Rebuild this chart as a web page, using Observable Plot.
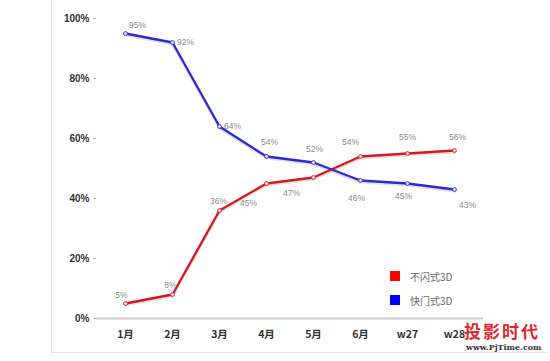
<!DOCTYPE html>
<html>
<head>
<meta charset="utf-8">
<script src="https://cdn.jsdelivr.net/npm/d3@7"></script>
<script src="https://cdn.jsdelivr.net/npm/@observablehq/plot@0.6"></script>
<style>
  html, body { margin: 0; padding: 0; background: #fff; }
  #wrap { position: relative; width: 550px; height: 361px; overflow: hidden; font-family: "Noto Sans CJK SC", "Liberation Sans", sans-serif; }
  #frame { position: absolute; left: 51px; top: -2px; width: 495px; height: 354px; border-left: 1px solid #e4e4e4; border-bottom: 1px solid #e4e4e4; }
  #chart { position: absolute; left: 0; top: 0; }
  #legend { position: absolute; left: 390px; top: 264px; font-size: 10px; color: #666; }
  #legend div { display: flex; align-items: center; height: 24px; }
  #legend span.sw { display: inline-block; width: 10px; height: 10px; margin-right: 10px; }
  #wm { position: absolute; left: 464px; top: 320px; text-align: left; white-space: nowrap; }
  #wm .cn { color: #e0282c; font-weight: bold; font-size: 17px; letter-spacing: 2px; line-height: 22px; font-family: "Noto Sans CJK SC", sans-serif; }
  #wm .en { color: #333; font-weight: bold; font-size: 8px; font-family: "DejaVu Serif", serif; line-height: 10px; margin-left: 2px; }
</style>
</head>
<body>
<div id="wrap">
  <div id="frame"></div>
  <div id="chart"></div>
  <div id="legend"></div>
  <div id="wm"><div class="cn">投影时代</div><div class="en">www.PjTime.com</div></div>
</div>
<script>
const categories = ["1月", "2月", "3月", "4月", "5月", "6月", "w27", "w28"];
const seriesNames = ["不闪式3D", "快门式3D"];
const nonFlash = [5, 8, 36, 45, 47, 54, 55, 56];
const shutter = [95, 92, 64, 54, 52, 46, 45, 43];
const yTicks = [0, 20, 40, 60, 80, 100];

const colors = {"不闪式3D": "#d8161c", "快门式3D": "#2a2ad4"};
const legendColors = {"不闪式3D": "#ff0000", "快门式3D": "#0000ff"};

// label offsets (style)
const redOff = [[-4,-8],[-2,-9],[-1,-9],[-18,20],[-22,16],[-10,-14],[0,-16],[3,-13]];
const blueOff = [[12,-8],[13,0],[13,0],[3,-14],[1,-13],[-4,18],[-4,13],[13,16]];

const data = [];
categories.forEach((c, i) => {
  data.push({cat: c, series: seriesNames[0], v: nonFlash[i], dx: redOff[i][0], dy: redOff[i][1]});
  data.push({cat: c, series: seriesNames[1], v: shutter[i], dx: blueOff[i][0], dy: blueOff[i][1]});
});

const labelMarks = data.map(d => Plot.text([d], {
  x: "cat", y: "v", text: d => d.v + "%",
  dx: d.dx, dy: d.dy, fill: "#8a8a8a", fontSize: 8.5, fontFamily: "Liberation Sans, sans-serif"
}));

const chart = Plot.plot({
  width: 550,
  height: 361,
  marginLeft: 96,
  marginRight: 67,
  marginTop: 18,
  marginBottom: 43,
  style: {background: "transparent", fontFamily: "Liberation Sans, Noto Sans CJK SC, sans-serif"},
  x: {type: "point", domain: categories, padding: 0.57, label: null},
  y: {domain: [0, 100], label: null},
  marks: [
    Plot.ruleX([0], {frameAnchor: "left", stroke: "#c8c8c8", strokeWidth: 1.5}),
    Plot.ruleY([0], {stroke: "#cccccc", strokeWidth: 2}),
    Plot.axisY(yTicks, {tickSize: 3, tickPadding: 4, stroke: "#bbb", fill: "#333", fontWeight: "bold", fontSize: 10, tickFormat: d => d + "%"}),
    Plot.axisX(categories, {tickSize: 0, tickPadding: 12, fill: "#333", fontWeight: "bold", fontSize: 10.5, fontFamily: "Noto Sans CJK SC, sans-serif"}),
    // shadow
    Plot.line(data, {x: "cat", y: "v", z: "series", stroke: "#aaa", strokeWidth: 3, strokeOpacity: 0.35, dy: 1.5}),
    Plot.line(data, {x: "cat", y: "v", z: "series", stroke: d => colors[d.series], strokeWidth: 2.3}),
    Plot.dot(data, {x: "cat", y: "v", r: 2, fill: "#d8d8d8", stroke: d => colors[d.series], strokeWidth: 0.8}),
    ...labelMarks
  ]
});
document.getElementById("chart").appendChild(chart);

const legend = document.getElementById("legend");
seriesNames.forEach(s => {
  const row = document.createElement("div");
  row.innerHTML = `<span class="sw" style="background:${legendColors[s]}"></span><span>${s}</span>`;
  legend.appendChild(row);
});
</script>
</body>
</html>
